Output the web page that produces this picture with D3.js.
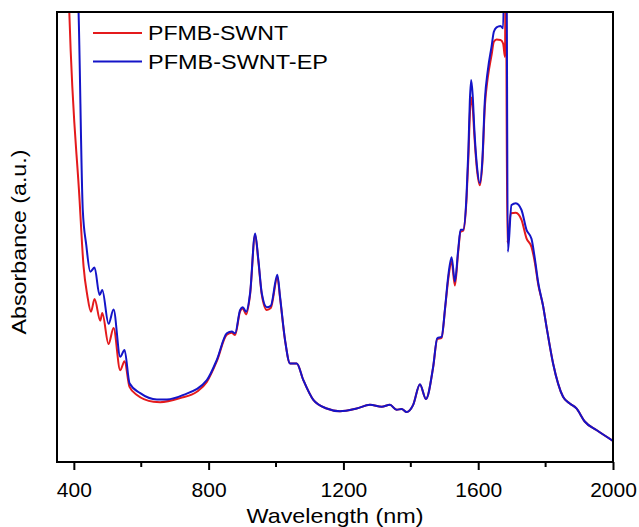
<!DOCTYPE html>
<html>
<head>
<meta charset="utf-8">
<script src="https://cdn.jsdelivr.net/npm/d3@7"></script>
<style>
  body { margin: 0; background: #fff; }
  text { font-family: "Liberation Sans", Arial, sans-serif; fill: #000; }
</style>
</head>
<body>
<script>
// wavelength (nm) / absorbance (a.u.)
var wlRed = [382, 386.5, 417, 428.9, 439.8, 450.8, 461.5, 478.4, 484.3, 503, 517.8, 537.6, 550.4, 565.2, 587.2,
  636.4, 656.2, 715.5, 765, 794.7, 824.3, 854, 868.8, 878.6, 893.5, 901.4, 911.2, 923, 937.9, 947.6, 957.7,
  972.5, 984.4, 1004, 1012, 1026.8, 1041.6, 1061.5, 1081, 1110.7, 1150.4, 1189.8, 1239.3, 1278.8, 1313.5,
  1338, 1358, 1372.7, 1387.6, 1407, 1427, 1444.8, 1466.4, 1478.3, 1491.3, 1502, 1510.9, 1521, 1530.8,
  1540.5, 1547.7, 1555.4, 1565.4, 1570.8, 1575.2, 1579.1, 1583.5, 1588.6, 1596, 1604.9, 1612.3, 1619.7,
  1628.6, 1639.6, 1646.4, 1654.4, 1666.2, 1673.9, 1679.5, 1681.7, 1686.3, 1696.8, 1711.6, 1728.5, 1743.3,
  1758.1, 1767.9, 1777.7, 1792.5, 1802.6, 1822.2, 1851.8, 1871.7, 1891.5, 1916.1, 1950.8, 2000];
var absRed = [1.116, 1.0, 0.582, 0.434, 0.371, 0.334, 0.362, 0.314, 0.331, 0.262, 0.298, 0.204, 0.224, 0.167, 0.149,
  0.134, 0.133, 0.142, 0.156, 0.178, 0.224, 0.283, 0.287, 0.282, 0.335, 0.341, 0.328, 0.372, 0.505, 0.446, 0.372,
  0.338, 0.342, 0.41, 0.364, 0.27, 0.219, 0.219, 0.182, 0.138, 0.119, 0.113, 0.119, 0.127, 0.123,
  0.127, 0.116, 0.118, 0.111, 0.127, 0.172, 0.14, 0.211, 0.273, 0.276, 0.343, 0.405, 0.445, 0.392,
  0.466, 0.512, 0.514, 0.585, 0.675, 0.772, 0.81, 0.79, 0.725, 0.652, 0.615, 0.664, 0.79,
  0.855, 0.904, 0.934, 0.939, 0.938, 0.93, 0.9, 1.2, 0.487, 0.553, 0.554, 0.538, 0.497,
  0.478, 0.444, 0.396, 0.347, 0.301, 0.219, 0.145, 0.13, 0.119, 0.09, 0.071, 0.047];

var wlBlue = [408.7, 414, 426.5, 436.9, 448.7, 461.5, 476.3, 484.3, 503, 517.8, 537.6, 550.4, 565.2, 597,
  646.4, 676.1, 725.3, 794.7, 824.3, 854, 868.8, 878.6, 893.5, 901.4, 911.2, 923, 937.9, 947.6, 957.7,
  972.5, 984.4, 1004, 1012, 1026.8, 1041.6, 1061.5, 1081, 1110.7, 1150.4, 1189.8, 1239.3, 1278.8, 1313.5,
  1338, 1358, 1372.7, 1387.6, 1407, 1427, 1444.8, 1466.4, 1478.3, 1491.3, 1502, 1510.9, 1521, 1530.8,
  1540.5, 1547.7, 1555.4, 1565.4, 1570.8, 1575.2, 1579.1, 1583.5, 1588.6, 1596, 1604.9, 1612.3, 1619.7,
  1628.6, 1639.6, 1646.4, 1654.4, 1666.2, 1673.9, 1679, 1683.4, 1687.9, 1698.8, 1711.6, 1728.5, 1743.3,
  1758.1, 1767.9, 1777.7, 1792.5, 1802.6, 1822.2, 1851.8, 1871.7, 1891.5, 1916.1, 1950.8, 2000];
var absBlue = [1.116, 1.0, 0.56, 0.482, 0.423, 0.432, 0.371, 0.382, 0.307, 0.339, 0.234, 0.249, 0.175, 0.153,
  0.139, 0.139, 0.149, 0.182, 0.227, 0.286, 0.29, 0.286, 0.338, 0.344, 0.334, 0.375, 0.508, 0.449, 0.375,
  0.344, 0.347, 0.416, 0.367, 0.271, 0.219, 0.219, 0.182, 0.138, 0.119, 0.113, 0.119, 0.127, 0.123,
  0.127, 0.116, 0.118, 0.111, 0.127, 0.173, 0.14, 0.212, 0.275, 0.278, 0.345, 0.412, 0.455, 0.401,
  0.471, 0.516, 0.516, 0.593, 0.693, 0.804, 0.849, 0.816, 0.738, 0.66, 0.62, 0.671, 0.804,
  0.871, 0.923, 0.956, 0.966, 0.969, 0.964, 1.2, 1.2, 0.467, 0.571, 0.575, 0.56, 0.516,
  0.496, 0.453, 0.4, 0.347, 0.301, 0.219, 0.145, 0.13, 0.119, 0.09, 0.071, 0.047];

var seriesNames = ["PFMB-SWNT", "PFMB-SWNT-EP"];
var seriesColors = ["#e41a1c", "#1414c8"];
var xTicks = [400, 800, 1200, 1600, 2000];
var xMinorTicks = [600, 1000, 1400, 1800];

var svgWidth = 639, svgHeight = 527;
var plotLeft = 57, plotRight = 613, plotTop = 12, plotBottom = 462;

var svg = d3.select("body").append("svg")
  .attr("width", svgWidth)
  .attr("height", svgHeight);

var x = d3.scaleLinear().domain([350, 2000]).range([plotLeft, plotRight]);
var y = d3.scaleLinear().domain([0, 1]).range([plotBottom, plotTop]);

svg.append("clipPath").attr("id", "plotclip")
  .append("rect")
  .attr("x", plotLeft).attr("y", plotTop)
  .attr("width", plotRight - plotLeft).attr("height", plotBottom - plotTop);

var line = d3.line()
  .x(function(d) { return x(d[0]); })
  .y(function(d) { return y(d[1]); })
  .curve(d3.curveMonotoneX);

var series = [d3.zip(wlRed, absRed), d3.zip(wlBlue, absBlue)];

svg.append("g").attr("clip-path", "url(#plotclip)")
  .selectAll("path")
  .data(series)
  .enter()
  .append("path")
  .attr("d", line)
  .attr("fill", "none")
  .attr("stroke", function(d, i) { return seriesColors[i]; })
  .attr("stroke-width", 2)
  .attr("stroke-linejoin", "round");

// frame
svg.append("rect")
  .attr("x", plotLeft).attr("y", plotTop)
  .attr("width", plotRight - plotLeft).attr("height", plotBottom - plotTop)
  .attr("fill", "none")
  .attr("stroke", "#000")
  .attr("stroke-width", 2);

// bottom axis
var xAxis = d3.axisBottom(x)
  .tickValues(xTicks)
  .tickSize(8)
  .tickPadding(12)
  .tickFormat(d3.format("d"));

var gx = svg.append("g")
  .attr("transform", `translate(0,${plotBottom})`)
  .call(xAxis);
gx.select(".domain").remove();
gx.selectAll(".tick line")
  .attr("stroke", "#000")
  .attr("stroke-width", 2);
gx.selectAll(".tick text")
  .attr("font-size", "21px")
  .attr("font-family", "Liberation Sans, Arial, sans-serif");

svg.append("g")
  .selectAll("line")
  .data(xMinorTicks)
  .enter()
  .append("line")
  .attr("x1", function(d) { return x(d); })
  .attr("x2", function(d) { return x(d); })
  .attr("y1", plotBottom)
  .attr("y2", plotBottom + 5)
  .attr("stroke", "#000")
  .attr("stroke-width", 2);

// axis titles (text stretched a bit wider, like the reference)
svg.append("text")
  .attr("x", (plotLeft + plotRight) / 2)
  .attr("y", 523)
  .attr("text-anchor", "middle")
  .attr("font-size", "21px")
  .attr("textLength", 177)
  .attr("lengthAdjust", "spacingAndGlyphs")
  .text("Wavelength (nm)");

svg.append("text")
  .attr("transform", "translate(26,242)rotate(-90)")
  .attr("text-anchor", "middle")
  .attr("font-size", "21px")
  .attr("textLength", 185)
  .attr("lengthAdjust", "spacingAndGlyphs")
  .text("Absorbance (a.u.)");

// legend
var legendWidths = [140, 180];
var legend = svg.append("g");
seriesNames.forEach(function(name, i) {
  var ly = 33 + i * 28.5;
  legend.append("line")
    .attr("x1", 93).attr("x2", 142)
    .attr("y1", ly).attr("y2", ly)
    .attr("stroke", seriesColors[i])
    .attr("stroke-width", 2);
  legend.append("text")
    .attr("x", 148)
    .attr("y", ly + 7)
    .attr("font-size", "20px")
    .attr("textLength", legendWidths[i])
    .attr("lengthAdjust", "spacingAndGlyphs")
    .text(name);
});
</script>
</body>
</html>
